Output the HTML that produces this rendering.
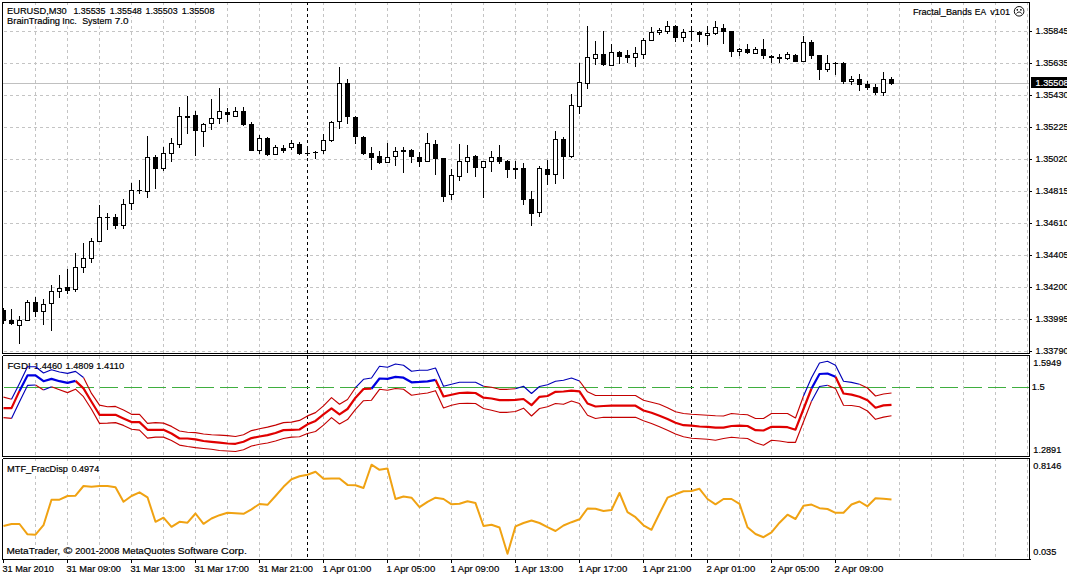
<!DOCTYPE html>
<html><head><meta charset="utf-8"><title>EURUSD,M30</title>
<style>html,body{margin:0;padding:0;background:#fff;}body{width:1067px;height:576px;overflow:hidden;}svg{display:block;}text{font-family:"Liberation Sans",sans-serif;font-size:9.9px;fill:#000;stroke:#000;stroke-width:0.2px;}</style></head><body>
<svg width="1067" height="576" viewBox="0 0 1067 576">
<rect x="0" y="0" width="1067" height="576" fill="#fff"/>
<g shape-rendering="crispEdges" stroke="#c4c4c4" stroke-width="1" stroke-dasharray="3 3" fill="none">
<line x1="4" y1="31.5" x2="1029" y2="31.5"/>
<line x1="4" y1="63.5" x2="1029" y2="63.5"/>
<line x1="4" y1="95.5" x2="1029" y2="95.5"/>
<line x1="4" y1="127.5" x2="1029" y2="127.5"/>
<line x1="4" y1="159.5" x2="1029" y2="159.5"/>
<line x1="4" y1="191.5" x2="1029" y2="191.5"/>
<line x1="4" y1="223.5" x2="1029" y2="223.5"/>
<line x1="4" y1="255.5" x2="1029" y2="255.5"/>
<line x1="4" y1="287.5" x2="1029" y2="287.5"/>
<line x1="4" y1="319.5" x2="1029" y2="319.5"/>
<line x1="4" y1="351.5" x2="1029" y2="351.5"/>
<line x1="35.5" y1="2" x2="35.5" y2="353"/>
<line x1="35.5" y1="356" x2="35.5" y2="456"/>
<line x1="35.5" y1="458" x2="35.5" y2="559"/>
<line x1="67.5" y1="2" x2="67.5" y2="353"/>
<line x1="67.5" y1="356" x2="67.5" y2="456"/>
<line x1="67.5" y1="458" x2="67.5" y2="559"/>
<line x1="99.5" y1="2" x2="99.5" y2="353"/>
<line x1="99.5" y1="356" x2="99.5" y2="456"/>
<line x1="99.5" y1="458" x2="99.5" y2="559"/>
<line x1="131.5" y1="2" x2="131.5" y2="353"/>
<line x1="131.5" y1="356" x2="131.5" y2="456"/>
<line x1="131.5" y1="458" x2="131.5" y2="559"/>
<line x1="163.5" y1="2" x2="163.5" y2="353"/>
<line x1="163.5" y1="356" x2="163.5" y2="456"/>
<line x1="163.5" y1="458" x2="163.5" y2="559"/>
<line x1="195.5" y1="2" x2="195.5" y2="353"/>
<line x1="195.5" y1="356" x2="195.5" y2="456"/>
<line x1="195.5" y1="458" x2="195.5" y2="559"/>
<line x1="227.5" y1="2" x2="227.5" y2="353"/>
<line x1="227.5" y1="356" x2="227.5" y2="456"/>
<line x1="227.5" y1="458" x2="227.5" y2="559"/>
<line x1="259.5" y1="2" x2="259.5" y2="353"/>
<line x1="259.5" y1="356" x2="259.5" y2="456"/>
<line x1="259.5" y1="458" x2="259.5" y2="559"/>
<line x1="291.5" y1="2" x2="291.5" y2="353"/>
<line x1="291.5" y1="356" x2="291.5" y2="456"/>
<line x1="291.5" y1="458" x2="291.5" y2="559"/>
<line x1="323.5" y1="2" x2="323.5" y2="353"/>
<line x1="323.5" y1="356" x2="323.5" y2="456"/>
<line x1="323.5" y1="458" x2="323.5" y2="559"/>
<line x1="355.5" y1="2" x2="355.5" y2="353"/>
<line x1="355.5" y1="356" x2="355.5" y2="456"/>
<line x1="355.5" y1="458" x2="355.5" y2="559"/>
<line x1="387.5" y1="2" x2="387.5" y2="353"/>
<line x1="387.5" y1="356" x2="387.5" y2="456"/>
<line x1="387.5" y1="458" x2="387.5" y2="559"/>
<line x1="419.5" y1="2" x2="419.5" y2="353"/>
<line x1="419.5" y1="356" x2="419.5" y2="456"/>
<line x1="419.5" y1="458" x2="419.5" y2="559"/>
<line x1="451.5" y1="2" x2="451.5" y2="353"/>
<line x1="451.5" y1="356" x2="451.5" y2="456"/>
<line x1="451.5" y1="458" x2="451.5" y2="559"/>
<line x1="483.5" y1="2" x2="483.5" y2="353"/>
<line x1="483.5" y1="356" x2="483.5" y2="456"/>
<line x1="483.5" y1="458" x2="483.5" y2="559"/>
<line x1="515.5" y1="2" x2="515.5" y2="353"/>
<line x1="515.5" y1="356" x2="515.5" y2="456"/>
<line x1="515.5" y1="458" x2="515.5" y2="559"/>
<line x1="547.5" y1="2" x2="547.5" y2="353"/>
<line x1="547.5" y1="356" x2="547.5" y2="456"/>
<line x1="547.5" y1="458" x2="547.5" y2="559"/>
<line x1="579.5" y1="2" x2="579.5" y2="353"/>
<line x1="579.5" y1="356" x2="579.5" y2="456"/>
<line x1="579.5" y1="458" x2="579.5" y2="559"/>
<line x1="611.5" y1="2" x2="611.5" y2="353"/>
<line x1="611.5" y1="356" x2="611.5" y2="456"/>
<line x1="611.5" y1="458" x2="611.5" y2="559"/>
<line x1="643.5" y1="2" x2="643.5" y2="353"/>
<line x1="643.5" y1="356" x2="643.5" y2="456"/>
<line x1="643.5" y1="458" x2="643.5" y2="559"/>
<line x1="675.5" y1="2" x2="675.5" y2="353"/>
<line x1="675.5" y1="356" x2="675.5" y2="456"/>
<line x1="675.5" y1="458" x2="675.5" y2="559"/>
<line x1="707.5" y1="2" x2="707.5" y2="353"/>
<line x1="707.5" y1="356" x2="707.5" y2="456"/>
<line x1="707.5" y1="458" x2="707.5" y2="559"/>
<line x1="739.5" y1="2" x2="739.5" y2="353"/>
<line x1="739.5" y1="356" x2="739.5" y2="456"/>
<line x1="739.5" y1="458" x2="739.5" y2="559"/>
<line x1="771.5" y1="2" x2="771.5" y2="353"/>
<line x1="771.5" y1="356" x2="771.5" y2="456"/>
<line x1="771.5" y1="458" x2="771.5" y2="559"/>
<line x1="803.5" y1="2" x2="803.5" y2="353"/>
<line x1="803.5" y1="356" x2="803.5" y2="456"/>
<line x1="803.5" y1="458" x2="803.5" y2="559"/>
<line x1="835.5" y1="2" x2="835.5" y2="353"/>
<line x1="835.5" y1="356" x2="835.5" y2="456"/>
<line x1="835.5" y1="458" x2="835.5" y2="559"/>
<line x1="867.5" y1="2" x2="867.5" y2="353"/>
<line x1="867.5" y1="356" x2="867.5" y2="456"/>
<line x1="867.5" y1="458" x2="867.5" y2="559"/>
<line x1="899.5" y1="2" x2="899.5" y2="353"/>
<line x1="899.5" y1="356" x2="899.5" y2="456"/>
<line x1="899.5" y1="458" x2="899.5" y2="559"/>
<line x1="931.5" y1="2" x2="931.5" y2="353"/>
<line x1="931.5" y1="356" x2="931.5" y2="456"/>
<line x1="931.5" y1="458" x2="931.5" y2="559"/>
<line x1="963.5" y1="2" x2="963.5" y2="353"/>
<line x1="963.5" y1="356" x2="963.5" y2="456"/>
<line x1="963.5" y1="458" x2="963.5" y2="559"/>
<line x1="995.5" y1="2" x2="995.5" y2="353"/>
<line x1="995.5" y1="356" x2="995.5" y2="456"/>
<line x1="995.5" y1="458" x2="995.5" y2="559"/>
<line x1="1027.5" y1="2" x2="1027.5" y2="353"/>
<line x1="1027.5" y1="356" x2="1027.5" y2="456"/>
<line x1="1027.5" y1="458" x2="1027.5" y2="559"/>
</g>
<g shape-rendering="crispEdges" stroke="#000" stroke-width="1" stroke-dasharray="3 3" fill="none">
<line x1="307.5" y1="2" x2="307.5" y2="353"/>
<line x1="307.5" y1="356" x2="307.5" y2="456"/>
<line x1="307.5" y1="458" x2="307.5" y2="559"/>
<line x1="691.5" y1="2" x2="691.5" y2="353"/>
<line x1="691.5" y1="356" x2="691.5" y2="456"/>
<line x1="691.5" y1="458" x2="691.5" y2="559"/>
</g>
<line x1="3" y1="83.5" x2="1029" y2="83.5" stroke="#c0c0c0" stroke-width="1" shape-rendering="crispEdges"/>
<clipPath id="cp"><rect x="3" y="3" width="1026" height="350"/></clipPath>
<g shape-rendering="crispEdges" stroke="none" clip-path="url(#cp)">
<rect x="3" y="308" width="1" height="16" fill="#000"/>
<rect x="1" y="310" width="5" height="11" fill="#000"/>
<rect x="11" y="309" width="1" height="16" fill="#000"/>
<rect x="9" y="320" width="5" height="4" fill="#000"/>
<rect x="19" y="316" width="1" height="28" fill="#000"/>
<rect x="17" y="320" width="5" height="6" fill="#000"/>
<rect x="18" y="321" width="3" height="4" fill="#fff"/>
<rect x="27" y="300" width="1" height="21" fill="#000"/>
<rect x="25" y="302" width="5" height="19" fill="#000"/>
<rect x="26" y="303" width="3" height="17" fill="#fff"/>
<rect x="35" y="297" width="1" height="20" fill="#000"/>
<rect x="33" y="302" width="5" height="10" fill="#000"/>
<rect x="43" y="299" width="1" height="26" fill="#000"/>
<rect x="41" y="304" width="5" height="8" fill="#000"/>
<rect x="42" y="305" width="3" height="6" fill="#fff"/>
<rect x="51" y="285" width="1" height="46" fill="#000"/>
<rect x="49" y="291" width="5" height="13" fill="#000"/>
<rect x="50" y="292" width="3" height="11" fill="#fff"/>
<rect x="59" y="275" width="1" height="23" fill="#000"/>
<rect x="57" y="288" width="5" height="4" fill="#000"/>
<rect x="58" y="289" width="3" height="2" fill="#fff"/>
<rect x="67" y="269" width="1" height="25" fill="#000"/>
<rect x="65" y="287" width="5" height="4" fill="#000"/>
<rect x="75" y="253" width="1" height="39" fill="#000"/>
<rect x="73" y="267" width="5" height="23" fill="#000"/>
<rect x="74" y="268" width="3" height="21" fill="#fff"/>
<rect x="83" y="243" width="1" height="30" fill="#000"/>
<rect x="81" y="258" width="5" height="10" fill="#000"/>
<rect x="82" y="259" width="3" height="8" fill="#fff"/>
<rect x="91" y="238" width="1" height="25" fill="#000"/>
<rect x="89" y="241" width="5" height="18" fill="#000"/>
<rect x="90" y="242" width="3" height="16" fill="#fff"/>
<rect x="99" y="205" width="1" height="37" fill="#000"/>
<rect x="97" y="217" width="5" height="25" fill="#000"/>
<rect x="98" y="218" width="3" height="23" fill="#fff"/>
<rect x="107" y="213" width="1" height="17" fill="#000"/>
<rect x="105" y="217" width="5" height="1" fill="#000"/>
<rect x="115" y="214" width="1" height="15" fill="#000"/>
<rect x="113" y="217" width="5" height="9" fill="#000"/>
<rect x="123" y="199" width="1" height="30" fill="#000"/>
<rect x="121" y="204" width="5" height="22" fill="#000"/>
<rect x="122" y="205" width="3" height="20" fill="#fff"/>
<rect x="131" y="183" width="1" height="27" fill="#000"/>
<rect x="129" y="190" width="5" height="14" fill="#000"/>
<rect x="130" y="191" width="3" height="12" fill="#fff"/>
<rect x="139" y="180" width="1" height="14" fill="#000"/>
<rect x="137" y="190" width="5" height="1" fill="#000"/>
<rect x="147" y="136" width="1" height="62" fill="#000"/>
<rect x="145" y="157" width="5" height="35" fill="#000"/>
<rect x="146" y="158" width="3" height="33" fill="#fff"/>
<rect x="155" y="155" width="1" height="34" fill="#000"/>
<rect x="153" y="157" width="5" height="12" fill="#000"/>
<rect x="163" y="147" width="1" height="24" fill="#000"/>
<rect x="161" y="153" width="5" height="16" fill="#000"/>
<rect x="162" y="154" width="3" height="14" fill="#fff"/>
<rect x="171" y="138" width="1" height="24" fill="#000"/>
<rect x="169" y="143" width="5" height="11" fill="#000"/>
<rect x="170" y="144" width="3" height="9" fill="#fff"/>
<rect x="179" y="107" width="1" height="41" fill="#000"/>
<rect x="177" y="116" width="5" height="29" fill="#000"/>
<rect x="178" y="117" width="3" height="27" fill="#fff"/>
<rect x="187" y="96" width="1" height="38" fill="#000"/>
<rect x="185" y="116" width="5" height="2" fill="#000"/>
<rect x="195" y="111" width="1" height="45" fill="#000"/>
<rect x="193" y="115" width="5" height="16" fill="#000"/>
<rect x="203" y="123" width="1" height="24" fill="#000"/>
<rect x="201" y="124" width="5" height="8" fill="#000"/>
<rect x="202" y="125" width="3" height="6" fill="#fff"/>
<rect x="211" y="99" width="1" height="31" fill="#000"/>
<rect x="209" y="118" width="5" height="6" fill="#000"/>
<rect x="210" y="119" width="3" height="4" fill="#fff"/>
<rect x="219" y="88" width="1" height="36" fill="#000"/>
<rect x="217" y="111" width="5" height="8" fill="#000"/>
<rect x="218" y="112" width="3" height="6" fill="#fff"/>
<rect x="227" y="108" width="1" height="14" fill="#000"/>
<rect x="225" y="112" width="5" height="3" fill="#000"/>
<rect x="235" y="107" width="1" height="10" fill="#000"/>
<rect x="233" y="111" width="5" height="6" fill="#000"/>
<rect x="234" y="112" width="3" height="4" fill="#fff"/>
<rect x="243" y="107" width="1" height="19" fill="#000"/>
<rect x="241" y="111" width="5" height="14" fill="#000"/>
<rect x="251" y="122" width="1" height="29" fill="#000"/>
<rect x="249" y="124" width="5" height="27" fill="#000"/>
<rect x="259" y="135" width="1" height="19" fill="#000"/>
<rect x="257" y="138" width="5" height="13" fill="#000"/>
<rect x="258" y="139" width="3" height="11" fill="#fff"/>
<rect x="267" y="137" width="1" height="19" fill="#000"/>
<rect x="265" y="138" width="5" height="17" fill="#000"/>
<rect x="275" y="145" width="1" height="10" fill="#000"/>
<rect x="273" y="147" width="5" height="8" fill="#000"/>
<rect x="274" y="148" width="3" height="6" fill="#fff"/>
<rect x="283" y="145" width="1" height="8" fill="#000"/>
<rect x="281" y="148" width="5" height="3" fill="#000"/>
<rect x="291" y="140" width="1" height="10" fill="#000"/>
<rect x="289" y="143" width="5" height="5" fill="#000"/>
<rect x="290" y="144" width="3" height="3" fill="#fff"/>
<rect x="299" y="142" width="1" height="13" fill="#000"/>
<rect x="297" y="144" width="5" height="10" fill="#000"/>
<rect x="307" y="146" width="1" height="10" fill="#000"/>
<rect x="305" y="153" width="5" height="1" fill="#000"/>
<rect x="315" y="151" width="1" height="8" fill="#000"/>
<rect x="313" y="152" width="5" height="1" fill="#000"/>
<rect x="323" y="134" width="1" height="20" fill="#000"/>
<rect x="321" y="140" width="5" height="11" fill="#000"/>
<rect x="322" y="141" width="3" height="9" fill="#fff"/>
<rect x="331" y="121" width="1" height="21" fill="#000"/>
<rect x="329" y="122" width="5" height="19" fill="#000"/>
<rect x="330" y="123" width="3" height="17" fill="#fff"/>
<rect x="339" y="67" width="1" height="62" fill="#000"/>
<rect x="337" y="83" width="5" height="39" fill="#000"/>
<rect x="338" y="84" width="3" height="37" fill="#fff"/>
<rect x="347" y="79" width="1" height="45" fill="#000"/>
<rect x="345" y="83" width="5" height="34" fill="#000"/>
<rect x="355" y="116" width="1" height="28" fill="#000"/>
<rect x="353" y="117" width="5" height="20" fill="#000"/>
<rect x="363" y="136" width="1" height="19" fill="#000"/>
<rect x="361" y="137" width="5" height="17" fill="#000"/>
<rect x="371" y="147" width="1" height="23" fill="#000"/>
<rect x="369" y="153" width="5" height="5" fill="#000"/>
<rect x="379" y="151" width="1" height="13" fill="#000"/>
<rect x="377" y="156" width="5" height="7" fill="#000"/>
<rect x="387" y="143" width="1" height="20" fill="#000"/>
<rect x="385" y="157" width="5" height="6" fill="#000"/>
<rect x="386" y="158" width="3" height="4" fill="#fff"/>
<rect x="395" y="147" width="1" height="19" fill="#000"/>
<rect x="393" y="151" width="5" height="6" fill="#000"/>
<rect x="394" y="152" width="3" height="4" fill="#fff"/>
<rect x="403" y="147" width="1" height="26" fill="#000"/>
<rect x="401" y="150" width="5" height="2" fill="#000"/>
<rect x="411" y="149" width="1" height="14" fill="#000"/>
<rect x="409" y="150" width="5" height="7" fill="#000"/>
<rect x="419" y="152" width="1" height="15" fill="#000"/>
<rect x="417" y="157" width="5" height="5" fill="#000"/>
<rect x="427" y="133" width="1" height="29" fill="#000"/>
<rect x="425" y="143" width="5" height="19" fill="#000"/>
<rect x="426" y="144" width="3" height="17" fill="#fff"/>
<rect x="435" y="140" width="1" height="35" fill="#000"/>
<rect x="433" y="144" width="5" height="15" fill="#000"/>
<rect x="443" y="158" width="1" height="44" fill="#000"/>
<rect x="441" y="158" width="5" height="39" fill="#000"/>
<rect x="451" y="169" width="1" height="31" fill="#000"/>
<rect x="449" y="175" width="5" height="20" fill="#000"/>
<rect x="450" y="176" width="3" height="18" fill="#fff"/>
<rect x="459" y="144" width="1" height="37" fill="#000"/>
<rect x="457" y="161" width="5" height="16" fill="#000"/>
<rect x="458" y="162" width="3" height="14" fill="#fff"/>
<rect x="467" y="145" width="1" height="28" fill="#000"/>
<rect x="465" y="157" width="5" height="5" fill="#000"/>
<rect x="466" y="158" width="3" height="3" fill="#fff"/>
<rect x="475" y="155" width="1" height="22" fill="#000"/>
<rect x="473" y="156" width="5" height="12" fill="#000"/>
<rect x="483" y="161" width="1" height="37" fill="#000"/>
<rect x="481" y="161" width="5" height="7" fill="#000"/>
<rect x="482" y="162" width="3" height="5" fill="#fff"/>
<rect x="491" y="151" width="1" height="21" fill="#000"/>
<rect x="489" y="157" width="5" height="5" fill="#000"/>
<rect x="490" y="158" width="3" height="3" fill="#fff"/>
<rect x="499" y="145" width="1" height="19" fill="#000"/>
<rect x="497" y="157" width="5" height="5" fill="#000"/>
<rect x="507" y="160" width="1" height="18" fill="#000"/>
<rect x="505" y="161" width="5" height="9" fill="#000"/>
<rect x="515" y="161" width="1" height="18" fill="#000"/>
<rect x="513" y="168" width="5" height="2" fill="#000"/>
<rect x="523" y="163" width="1" height="42" fill="#000"/>
<rect x="521" y="168" width="5" height="32" fill="#000"/>
<rect x="531" y="191" width="1" height="35" fill="#000"/>
<rect x="529" y="199" width="5" height="15" fill="#000"/>
<rect x="539" y="166" width="1" height="51" fill="#000"/>
<rect x="537" y="168" width="5" height="45" fill="#000"/>
<rect x="538" y="169" width="3" height="43" fill="#fff"/>
<rect x="547" y="160" width="1" height="25" fill="#000"/>
<rect x="545" y="169" width="5" height="6" fill="#000"/>
<rect x="555" y="131" width="1" height="53" fill="#000"/>
<rect x="553" y="139" width="5" height="36" fill="#000"/>
<rect x="554" y="140" width="3" height="34" fill="#fff"/>
<rect x="563" y="137" width="1" height="42" fill="#000"/>
<rect x="561" y="139" width="5" height="18" fill="#000"/>
<rect x="571" y="94" width="1" height="64" fill="#000"/>
<rect x="569" y="105" width="5" height="52" fill="#000"/>
<rect x="570" y="106" width="3" height="50" fill="#fff"/>
<rect x="579" y="63" width="1" height="51" fill="#000"/>
<rect x="577" y="82" width="5" height="25" fill="#000"/>
<rect x="578" y="83" width="3" height="23" fill="#fff"/>
<rect x="587" y="26" width="1" height="63" fill="#000"/>
<rect x="585" y="57" width="5" height="27" fill="#000"/>
<rect x="586" y="58" width="3" height="25" fill="#fff"/>
<rect x="595" y="41" width="1" height="24" fill="#000"/>
<rect x="593" y="54" width="5" height="5" fill="#000"/>
<rect x="594" y="55" width="3" height="3" fill="#fff"/>
<rect x="603" y="31" width="1" height="35" fill="#000"/>
<rect x="601" y="54" width="5" height="11" fill="#000"/>
<rect x="611" y="44" width="1" height="22" fill="#000"/>
<rect x="609" y="52" width="5" height="14" fill="#000"/>
<rect x="610" y="53" width="3" height="12" fill="#fff"/>
<rect x="619" y="51" width="1" height="13" fill="#000"/>
<rect x="617" y="52" width="5" height="5" fill="#000"/>
<rect x="627" y="50" width="1" height="13" fill="#000"/>
<rect x="625" y="55" width="5" height="3" fill="#000"/>
<rect x="635" y="47" width="1" height="20" fill="#000"/>
<rect x="633" y="53" width="5" height="5" fill="#000"/>
<rect x="634" y="54" width="3" height="3" fill="#fff"/>
<rect x="643" y="38" width="1" height="21" fill="#000"/>
<rect x="641" y="40" width="5" height="15" fill="#000"/>
<rect x="642" y="41" width="3" height="13" fill="#fff"/>
<rect x="651" y="27" width="1" height="14" fill="#000"/>
<rect x="649" y="32" width="5" height="9" fill="#000"/>
<rect x="650" y="33" width="3" height="7" fill="#fff"/>
<rect x="659" y="28" width="1" height="7" fill="#000"/>
<rect x="657" y="30" width="5" height="3" fill="#000"/>
<rect x="658" y="31" width="3" height="1" fill="#fff"/>
<rect x="667" y="21" width="1" height="13" fill="#000"/>
<rect x="665" y="26" width="5" height="6" fill="#000"/>
<rect x="666" y="27" width="3" height="4" fill="#fff"/>
<rect x="675" y="25" width="1" height="17" fill="#000"/>
<rect x="673" y="26" width="5" height="12" fill="#000"/>
<rect x="683" y="29" width="1" height="13" fill="#000"/>
<rect x="681" y="32" width="5" height="6" fill="#000"/>
<rect x="682" y="33" width="3" height="4" fill="#fff"/>
<rect x="691" y="26" width="1" height="15" fill="#000"/>
<rect x="689" y="31" width="5" height="1" fill="#000"/>
<rect x="699" y="31" width="1" height="11" fill="#000"/>
<rect x="697" y="32" width="5" height="3" fill="#000"/>
<rect x="707" y="26" width="1" height="19" fill="#000"/>
<rect x="705" y="33" width="5" height="3" fill="#000"/>
<rect x="706" y="34" width="3" height="1" fill="#fff"/>
<rect x="715" y="21" width="1" height="14" fill="#000"/>
<rect x="713" y="27" width="5" height="7" fill="#000"/>
<rect x="714" y="28" width="3" height="5" fill="#fff"/>
<rect x="723" y="24" width="1" height="20" fill="#000"/>
<rect x="721" y="28" width="5" height="4" fill="#000"/>
<rect x="731" y="31" width="1" height="26" fill="#000"/>
<rect x="729" y="31" width="5" height="21" fill="#000"/>
<rect x="739" y="48" width="1" height="8" fill="#000"/>
<rect x="737" y="49" width="5" height="3" fill="#000"/>
<rect x="738" y="50" width="3" height="1" fill="#fff"/>
<rect x="747" y="44" width="1" height="10" fill="#000"/>
<rect x="745" y="49" width="5" height="4" fill="#000"/>
<rect x="755" y="47" width="1" height="7" fill="#000"/>
<rect x="753" y="49" width="5" height="5" fill="#000"/>
<rect x="754" y="50" width="3" height="3" fill="#fff"/>
<rect x="763" y="39" width="1" height="20" fill="#000"/>
<rect x="761" y="49" width="5" height="7" fill="#000"/>
<rect x="771" y="55" width="1" height="8" fill="#000"/>
<rect x="769" y="56" width="5" height="2" fill="#000"/>
<rect x="779" y="54" width="1" height="9" fill="#000"/>
<rect x="777" y="57" width="5" height="2" fill="#000"/>
<rect x="787" y="52" width="1" height="8" fill="#000"/>
<rect x="785" y="54" width="5" height="5" fill="#000"/>
<rect x="786" y="55" width="3" height="3" fill="#fff"/>
<rect x="795" y="54" width="1" height="8" fill="#000"/>
<rect x="793" y="55" width="5" height="7" fill="#000"/>
<rect x="803" y="36" width="1" height="26" fill="#000"/>
<rect x="801" y="42" width="5" height="20" fill="#000"/>
<rect x="802" y="43" width="3" height="18" fill="#fff"/>
<rect x="811" y="40" width="1" height="19" fill="#000"/>
<rect x="809" y="42" width="5" height="14" fill="#000"/>
<rect x="819" y="55" width="1" height="25" fill="#000"/>
<rect x="817" y="55" width="5" height="15" fill="#000"/>
<rect x="827" y="55" width="1" height="17" fill="#000"/>
<rect x="825" y="63" width="5" height="7" fill="#000"/>
<rect x="826" y="64" width="3" height="5" fill="#fff"/>
<rect x="835" y="62" width="1" height="13" fill="#000"/>
<rect x="833" y="63" width="5" height="1" fill="#000"/>
<rect x="843" y="62" width="1" height="22" fill="#000"/>
<rect x="841" y="63" width="5" height="19" fill="#000"/>
<rect x="851" y="76" width="1" height="9" fill="#000"/>
<rect x="849" y="79" width="5" height="3" fill="#000"/>
<rect x="850" y="80" width="3" height="1" fill="#fff"/>
<rect x="859" y="74" width="1" height="17" fill="#000"/>
<rect x="857" y="79" width="5" height="6" fill="#000"/>
<rect x="867" y="81" width="1" height="9" fill="#000"/>
<rect x="865" y="84" width="5" height="4" fill="#000"/>
<rect x="875" y="84" width="1" height="11" fill="#000"/>
<rect x="873" y="87" width="5" height="6" fill="#000"/>
<rect x="883" y="72" width="1" height="24" fill="#000"/>
<rect x="881" y="79" width="5" height="14" fill="#000"/>
<rect x="882" y="80" width="3" height="12" fill="#fff"/>
<rect x="891" y="77" width="1" height="8" fill="#000"/>
<rect x="889" y="79" width="5" height="5" fill="#000"/>
</g>
<g fill="#fff" shape-rendering="crispEdges"><rect x="6" y="5" width="209" height="11"/><rect x="6" y="16" width="123" height="10"/><rect x="6" y="360" width="119" height="11"/><rect x="6" y="463" width="94" height="11"/><rect x="6" y="545" width="242" height="11"/></g>
<text x="7.4" y="369" textLength="23.2" lengthAdjust="spacingAndGlyphs" >FGDI</text>
<text x="34.1" y="369" textLength="28.1" lengthAdjust="spacingAndGlyphs" >1.4460</text>
<text x="65.6" y="369" textLength="28.0" lengthAdjust="spacingAndGlyphs" >1.4809</text>
<text x="96.3" y="369" textLength="27.8" lengthAdjust="spacingAndGlyphs" >1.4110</text>
<text x="7.1" y="472" textLength="60.9" lengthAdjust="spacingAndGlyphs" >MTF_FracDisp</text>
<text x="71.4" y="472" textLength="27.8" lengthAdjust="spacingAndGlyphs" >0.4974</text>
<g fill="none" stroke="#3fae3f" stroke-width="1" shape-rendering="crispEdges">
<line x1="4" y1="387.5" x2="70" y2="387.5"/>
<line x1="76" y1="387.5" x2="1029" y2="387.5" stroke-dasharray="18 6"/>
<line x1="796" y1="387.5" x2="886" y2="387.5"/>
<line x1="436" y1="387.5" x2="574" y2="387.5"/>
</g>
<g fill="none" stroke-linejoin="round" stroke-linecap="butt">
<polyline points="3.5,397.1 11.5,399.2" stroke="#c40000" stroke-width="1.15"/>
<polyline points="83.5,377.5 91.5,393.4 99.5,405.1 107.5,406.7 115.5,406.4 123.5,410.1 131.5,414.3 139.5,414.3 147.5,423.4 155.5,422.6 163.5,423.1 171.5,426.4 179.5,431.0 187.5,432.3 195.5,432.6 203.5,434.0 211.5,434.8 219.5,435.1 227.5,435.6 235.5,436.5 243.5,434.8 251.5,430.6 259.5,428.8 267.5,427.1 275.5,425.1 283.5,422.6 291.5,422.1 299.5,420.4 307.5,415.9 315.5,412.6 323.5,405.9 331.5,397.6 339.5,404.2 347.5,399.5 355.5,387.7" stroke="#c40000" stroke-width="1.15"/>
<polyline points="483.5,386.3 491.5,387.3 499.5,389.3 507.5,389.3 515.5,388.8" stroke="#c40000" stroke-width="1.15"/>
<polyline points="579.5,381.0 587.5,391.8 595.5,395.5 603.5,395.5 611.5,395.5 619.5,395.5 627.5,395.5 635.5,395.5 643.5,400.2 651.5,402.3 659.5,404.3 667.5,407.7 675.5,411.8 683.5,413.5 691.5,414.3 699.5,414.7 707.5,415.2 715.5,415.7 723.5,416.0 731.5,413.5 739.5,414.3 747.5,414.7 755.5,418.5 763.5,418.5 771.5,413.5 779.5,413.5 787.5,413.5 795.5,418.0 803.5,396.0" stroke="#c40000" stroke-width="1.15"/>
<polyline points="859.5,384.3 867.5,388.0 875.5,396.0 883.5,394.0 891.5,393.0" stroke="#c40000" stroke-width="1.15"/>
<polyline points="11.5,399.2 19.5,383.4 27.5,366.7 35.5,366.7 43.5,373.0 51.5,369.7 59.5,372.0 67.5,373.4 75.5,371.4 83.5,377.5" stroke="#0000b8" stroke-width="1.15"/>
<polyline points="355.5,387.7 363.5,379.3 371.5,378.0 379.5,366.3 387.5,367.3 395.5,364.0 403.5,365.2 411.5,371.3 419.5,370.2 427.5,370.2 435.5,368.0 443.5,386.3 451.5,384.3 459.5,382.3 467.5,382.2 475.5,382.3 483.5,386.3" stroke="#0000b8" stroke-width="1.15"/>
<polyline points="515.5,388.8 523.5,386.3 531.5,393.5 539.5,386.5 547.5,384.8 555.5,381.3 563.5,380.2 571.5,378.0 579.5,381.0" stroke="#0000b8" stroke-width="1.15"/>
<polyline points="803.5,396.0 811.5,377.7 819.5,363.0 827.5,361.3 835.5,365.2 843.5,381.3 851.5,382.4 859.5,384.3" stroke="#0000b8" stroke-width="1.15"/>
<polyline points="3.5,417.6 11.5,418.4" stroke="#c40000" stroke-width="1.15"/>
<polyline points="35.5,385.0 43.5,390.0" stroke="#c40000" stroke-width="1.15"/>
<polyline points="51.5,386.7 59.5,389.7 67.5,392.6 75.5,389.2 83.5,396.7 91.5,409.2 99.5,423.4 107.5,423.1 115.5,422.6 123.5,425.4 131.5,429.3 139.5,430.1 147.5,438.1 155.5,437.1 163.5,437.1 171.5,440.5 179.5,445.1 187.5,446.5 195.5,447.6 203.5,448.5 211.5,449.3 219.5,450.5 227.5,451.0 235.5,451.5 243.5,449.8 251.5,446.0 259.5,444.3 267.5,443.0 275.5,441.0 283.5,438.5 291.5,437.1 299.5,436.8 307.5,433.5 315.5,431.5 323.5,425.1 331.5,417.6 339.5,424.0 347.5,419.6 355.5,409.3 363.5,400.7 371.5,400.2 379.5,389.3 387.5,390.2 395.5,388.5 403.5,389.3 411.5,395.2 419.5,394.0 427.5,393.0 435.5,390.7 443.5,408.0 451.5,405.2 459.5,403.5 467.5,403.2 475.5,403.5 483.5,408.5 491.5,410.2 499.5,412.3 507.5,412.3 515.5,411.5 523.5,408.2 531.5,416.0 539.5,408.5 547.5,406.8 555.5,403.5 563.5,404.3 571.5,401.0 579.5,403.5 587.5,415.2 595.5,418.5 603.5,417.3 611.5,417.3 619.5,417.3 627.5,417.3 635.5,417.3 643.5,420.7 651.5,423.5 659.5,426.8 667.5,430.2 675.5,434.0 683.5,436.8 691.5,438.2 699.5,438.8 707.5,439.3 715.5,440.2 723.5,438.5 731.5,437.2 739.5,438.0 747.5,438.5 755.5,442.7 763.5,445.2 771.5,440.2 779.5,441.0 787.5,442.3 795.5,442.3 803.5,421.8 811.5,401.3" stroke="#c40000" stroke-width="1.15"/>
<polyline points="827.5,385.2 835.5,388.5 843.5,405.2 851.5,405.5 859.5,406.8 867.5,411.0 875.5,419.3 883.5,417.1 891.5,415.8" stroke="#c40000" stroke-width="1.15"/>
<polyline points="11.5,418.4 19.5,401.7 27.5,385.4 35.5,385.0" stroke="#0000b8" stroke-width="1.15"/>
<polyline points="43.5,390.0 51.5,386.7" stroke="#0000b8" stroke-width="1.15"/>
<polyline points="811.5,401.3 819.5,386.5 827.5,385.2" stroke="#0000b8" stroke-width="1.15"/>
<polyline points="3.5,408.1 11.5,408.1 19.5,390.9" stroke="#e00000" stroke-width="2.2"/>
<polyline points="75.5,380.9 83.5,388.4 91.5,401.7 99.5,414.8 107.5,414.8 115.5,414.8 123.5,418.4 131.5,422.1 139.5,422.1 147.5,429.8 155.5,429.8 163.5,429.8 171.5,433.5 179.5,438.5 187.5,438.5 195.5,439.3 203.5,441.0 211.5,441.8 219.5,442.6 227.5,443.5 235.5,443.8 243.5,441.8 251.5,438.1 259.5,436.5 267.5,435.1 275.5,433.0 283.5,430.1 291.5,429.8 299.5,429.5 307.5,424.3 315.5,420.9 323.5,414.3 331.5,408.4 339.5,414.3 347.5,409.0 355.5,397.7 363.5,389.0 371.5,388.7" stroke="#e00000" stroke-width="2.2"/>
<polyline points="435.5,379.8 443.5,396.5 451.5,394.7 459.5,393.0 467.5,392.7 475.5,393.0 483.5,397.7 491.5,398.5 499.5,400.2 507.5,400.2 515.5,399.8 523.5,399.0 531.5,405.2 539.5,396.8 547.5,396.0 555.5,391.8 563.5,391.5 571.5,390.7 579.5,391.3 587.5,403.5 595.5,406.5 603.5,406.0 611.5,405.7 619.5,405.7 627.5,405.7 635.5,405.7 643.5,410.5 651.5,412.7 659.5,415.7 667.5,419.0 675.5,422.7 683.5,425.2 691.5,425.7 699.5,426.5 707.5,426.8 715.5,427.7 723.5,427.7 731.5,426.0 739.5,425.7 747.5,426.0 755.5,430.2 763.5,430.5 771.5,426.8 779.5,426.8 787.5,427.2 795.5,429.7 803.5,409.0 811.5,388.5" stroke="#e00000" stroke-width="2.2"/>
<polyline points="835.5,376.8 843.5,393.5 851.5,394.6 859.5,396.7 867.5,400.2 875.5,407.7 883.5,405.4 891.5,404.8" stroke="#e00000" stroke-width="2.2"/>
<polyline points="19.5,390.9 27.5,375.4 35.5,375.4 43.5,381.2 51.5,378.9 59.5,381.2 67.5,382.9 75.5,380.9" stroke="#0000e0" stroke-width="2.2"/>
<polyline points="371.5,388.7 379.5,378.5 387.5,378.9 395.5,376.9 403.5,377.7 411.5,382.3 419.5,381.9 427.5,381.3 435.5,379.8" stroke="#0000e0" stroke-width="2.2"/>
<polyline points="811.5,388.5 819.5,374.0 827.5,373.5 835.5,376.8" stroke="#0000e0" stroke-width="2.2"/>
</g>
<polyline points="3.5,526.0 11.5,524.0 19.5,524.0 27.5,534.3 35.5,534.7 43.5,525.2 51.5,499.7 59.5,499.7 67.5,496.0 75.5,495.7 83.5,486.0 91.5,486.8 99.5,486.0 107.5,486.0 115.5,487.3 123.5,501.8 131.5,496.0 139.5,492.3 147.5,497.3 155.5,521.8 163.5,517.7 171.5,526.8 179.5,521.8 187.5,522.7 195.5,513.5 203.5,523.8 211.5,518.5 219.5,515.2 227.5,512.7 235.5,513.2 243.5,513.8 251.5,509.3 259.5,504.0 267.5,504.8 275.5,496.0 283.5,486.8 291.5,479.3 299.5,476.3 307.5,474.7 315.5,471.8 323.5,478.8 331.5,478.5 339.5,478.5 347.5,484.9 355.5,485.2 363.5,488.0 371.5,464.7 379.5,469.8 387.5,468.5 395.5,499.0 403.5,496.5 411.5,497.7 419.5,507.2 427.5,501.8 435.5,497.7 443.5,499.0 451.5,504.3 459.5,503.8 467.5,501.3 475.5,503.1 483.5,526.0 491.5,524.7 499.5,527.5 507.5,553.8 515.5,526.4 523.5,523.0 531.5,520.5 539.5,523.0 547.5,527.2 555.5,531.0 563.5,525.5 571.5,522.2 579.5,519.3 587.5,508.5 595.5,508.8 603.5,511.0 611.5,510.0 619.5,493.0 627.5,512.2 635.5,517.2 643.5,525.3 651.5,529.8 659.5,513.5 667.5,497.7 675.5,494.3 683.5,491.3 691.5,491.0 699.5,488.8 707.5,499.0 715.5,504.3 723.5,499.0 731.5,499.0 739.5,503.8 747.5,527.3 755.5,534.0 763.5,537.2 771.5,532.3 779.5,522.7 787.5,514.7 795.5,519.0 803.5,505.7 811.5,504.6 819.5,508.2 827.5,509.0 835.5,512.8 843.5,512.8 851.5,504.5 859.5,501.5 867.5,506.3 875.5,498.3 883.5,498.8 891.5,499.5" fill="none" stroke="#f0a212" stroke-width="2.0" stroke-linejoin="round"/>
<g shape-rendering="crispEdges" fill="none" stroke="#000" stroke-width="1">
<path d="M2.5 353.5 V2.5 H1029.5 V559.5"/>
<path d="M2.5 353.5 H1029.5"/>
<path d="M2.5 355.5 H1029.5 M2.5 355.5 V456.5 H1029.5"/>
<path d="M2.5 458.5 H1029.5 M2.5 458.5 V559.5 H1030.5"/>
<path d="M1030 31.5 H1032"/>
<path d="M1030 63.5 H1032"/>
<path d="M1030 95.5 H1032"/>
<path d="M1030 127.5 H1032"/>
<path d="M1030 159.5 H1032"/>
<path d="M1030 191.5 H1032"/>
<path d="M1030 223.5 H1032"/>
<path d="M1030 255.5 H1032"/>
<path d="M1030 287.5 H1032"/>
<path d="M1030 319.5 H1032"/>
<path d="M1030 351.5 H1032"/>
<path d="M3.5 560 V563"/>
<path d="M67.5 560 V563"/>
<path d="M131.5 560 V563"/>
<path d="M195.5 560 V563"/>
<path d="M259.5 560 V563"/>
<path d="M323.5 560 V563"/>
<path d="M387.5 560 V563"/>
<path d="M451.5 560 V563"/>
<path d="M515.5 560 V563"/>
<path d="M579.5 560 V563"/>
<path d="M643.5 560 V563"/>
<path d="M707.5 560 V563"/>
<path d="M771.5 560 V563"/>
<path d="M835.5 560 V563"/>
</g>
<g fill="#fff" shape-rendering="crispEdges"><rect x="1029" y="354" width="1" height="1"/><rect x="1029" y="457" width="1" height="1"/><rect x="2" y="354" width="1" height="1"/><rect x="2" y="457" width="1" height="1"/></g>
<rect x="1031" y="77" width="36" height="11" fill="#000" shape-rendering="crispEdges"/>
<text x="1035.6" y="34" textLength="33.0" lengthAdjust="spacingAndGlyphs" >1.35845</text>
<text x="1035.6" y="66" textLength="33.0" lengthAdjust="spacingAndGlyphs" >1.35635</text>
<text x="1035.6" y="98" textLength="33.0" lengthAdjust="spacingAndGlyphs" >1.35430</text>
<text x="1035.6" y="130" textLength="33.0" lengthAdjust="spacingAndGlyphs" >1.35225</text>
<text x="1035.6" y="162" textLength="33.0" lengthAdjust="spacingAndGlyphs" >1.35020</text>
<text x="1035.6" y="194" textLength="33.0" lengthAdjust="spacingAndGlyphs" >1.34815</text>
<text x="1035.6" y="226" textLength="33.0" lengthAdjust="spacingAndGlyphs" >1.34610</text>
<text x="1035.6" y="258" textLength="33.0" lengthAdjust="spacingAndGlyphs" >1.34405</text>
<text x="1035.6" y="290" textLength="33.0" lengthAdjust="spacingAndGlyphs" >1.34200</text>
<text x="1035.6" y="322" textLength="33.0" lengthAdjust="spacingAndGlyphs" >1.33995</text>
<text x="1035.6" y="354" textLength="33.0" lengthAdjust="spacingAndGlyphs" >1.33790</text>
<text x="1035.6" y="85.7" textLength="33.0" lengthAdjust="spacingAndGlyphs" style="fill:#fff;stroke:#fff">1.35508</text>
<text x="1033.3" y="365.6" textLength="28.0" lengthAdjust="spacingAndGlyphs" >1.5949</text>
<text x="1031.8" y="389.6" textLength="13.0" lengthAdjust="spacingAndGlyphs" >1.5</text>
<text x="1033.3" y="453" textLength="28.0" lengthAdjust="spacingAndGlyphs" >1.2891</text>
<text x="1033.3" y="468.8" textLength="28.0" lengthAdjust="spacingAndGlyphs" >0.8146</text>
<text x="1033.3" y="555.4" textLength="23.0" lengthAdjust="spacingAndGlyphs" >0.035</text>
<text x="7.1" y="14" textLength="59.6" lengthAdjust="spacingAndGlyphs" >EURUSD,M30</text>
<text x="73.4" y="14" textLength="32.1" lengthAdjust="spacingAndGlyphs" >1.35535</text>
<text x="109.7" y="14" textLength="32.1" lengthAdjust="spacingAndGlyphs" >1.35548</text>
<text x="145.5" y="14" textLength="32.1" lengthAdjust="spacingAndGlyphs" >1.35503</text>
<text x="181.8" y="14" textLength="32.6" lengthAdjust="spacingAndGlyphs" >1.35508</text>
<text x="7.1" y="24" textLength="52.9" lengthAdjust="spacingAndGlyphs" >BrainTrading</text>
<text x="62.2" y="24" textLength="14.5" lengthAdjust="spacingAndGlyphs" >Inc.</text>
<text x="82.2" y="24" textLength="29.6" lengthAdjust="spacingAndGlyphs" >System</text>
<text x="114.7" y="24" textLength="13.8" lengthAdjust="spacingAndGlyphs" >7.0</text>
<text x="6.4" y="554" textLength="53.6" lengthAdjust="spacingAndGlyphs" >MetaTrader,</text>
<text x="63.4" y="554" textLength="8.8" lengthAdjust="spacingAndGlyphs" >&#169;</text>
<text x="75.2" y="554" textLength="44.1" lengthAdjust="spacingAndGlyphs" >2001-2008</text>
<text x="122.2" y="554" textLength="52.9" lengthAdjust="spacingAndGlyphs" >MetaQuotes</text>
<text x="177.8" y="554" textLength="40.3" lengthAdjust="spacingAndGlyphs" >Software</text>
<text x="221.1" y="554" textLength="25.8" lengthAdjust="spacingAndGlyphs" >Corp.</text>
<text x="912.9" y="15" textLength="58.9" lengthAdjust="spacingAndGlyphs" >Fractal_Bands</text>
<text x="974.8" y="15" textLength="11.3" lengthAdjust="spacingAndGlyphs" >EA</text>
<text x="990.3" y="15" textLength="19.8" lengthAdjust="spacingAndGlyphs" >v101</text>
<text x="2.4" y="572" textLength="51.5" lengthAdjust="spacingAndGlyphs" >31 Mar 2010</text>
<text x="66.4" y="572" textLength="54.6" lengthAdjust="spacingAndGlyphs" >31 Mar 09:00</text>
<text x="130.4" y="572" textLength="54.6" lengthAdjust="spacingAndGlyphs" >31 Mar 13:00</text>
<text x="194.4" y="572" textLength="54.6" lengthAdjust="spacingAndGlyphs" >31 Mar 17:00</text>
<text x="258.4" y="572" textLength="54.6" lengthAdjust="spacingAndGlyphs" >31 Mar 21:00</text>
<text x="322.4" y="572" textLength="48.8" lengthAdjust="spacingAndGlyphs" >1 Apr 01:00</text>
<text x="386.4" y="572" textLength="48.8" lengthAdjust="spacingAndGlyphs" >1 Apr 05:00</text>
<text x="450.4" y="572" textLength="48.8" lengthAdjust="spacingAndGlyphs" >1 Apr 09:00</text>
<text x="514.4" y="572" textLength="48.8" lengthAdjust="spacingAndGlyphs" >1 Apr 13:00</text>
<text x="578.4" y="572" textLength="48.8" lengthAdjust="spacingAndGlyphs" >1 Apr 17:00</text>
<text x="642.4" y="572" textLength="48.8" lengthAdjust="spacingAndGlyphs" >1 Apr 21:00</text>
<text x="706.4" y="572" textLength="48.8" lengthAdjust="spacingAndGlyphs" >2 Apr 01:00</text>
<text x="770.4" y="572" textLength="48.8" lengthAdjust="spacingAndGlyphs" >2 Apr 05:00</text>
<text x="834.4" y="572" textLength="48.8" lengthAdjust="spacingAndGlyphs" >2 Apr 09:00</text>
<g fill="none" stroke="#000" stroke-width="0.95"><circle cx="1019.1" cy="11.3" r="4.8"/><path d="M1016.5 13.5 Q1019.1 10.4 1021.7 13.5"/></g>
<circle cx="1017.3" cy="9.8" r="0.85" fill="#000"/><circle cx="1020.9" cy="9.8" r="0.85" fill="#000"/>
</svg></body></html>
